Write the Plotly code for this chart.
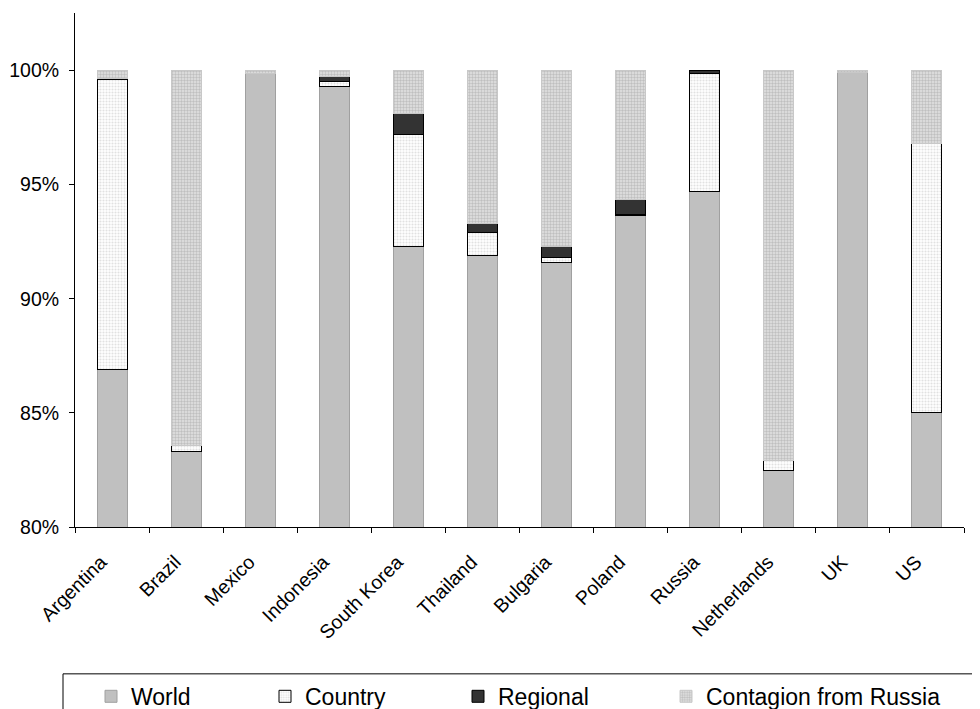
import plotly.graph_objects as go

countries = ["Argentina", "Brazil", "Mexico", "Indonesia", "South Korea", "Thailand",
             "Bulgaria", "Poland", "Russia", "Netherlands", "UK", "US"]
world = [86.9, 83.33, 99.85, 99.3, 92.3, 91.9, 91.6, 93.65, 94.72, 82.46, 99.9, 85.0]
country = [12.7, 0.23, 0, 0.2, 4.9, 1.0, 0.2, 0.04, 5.15, 0.47, 0, 11.8]
regional = [0.05, 0, 0, 0.22, 0.93, 0.4, 0.5, 0.66, 0.13, 0, 0, 0]
contagion = [0.35, 16.44, 0.15, 0.28, 1.87, 6.7, 7.7, 5.65, 0, 17.07, 0.1, 3.2]
y_ticks = [80, 85, 90, 95, 100]
y_tick_labels = ["80%", "85%", "90%", "95%", "100%"]

FONT = "Liberation Sans, Arial, sans-serif"


def nz(vals):
    return [v if v > 0 else None for v in vals]


fig = go.Figure()
fig.add_trace(go.Bar(
    x=countries, y=nz(world), name="World", legend="legend",
    marker=dict(color="#c0c0c0", line=dict(color="#a0a0a0", width=1)),
))
fig.add_trace(go.Bar(
    x=countries, y=nz(country), name="Country", legend="legend2",
    marker=dict(color="white", line=dict(color="#000000", width=1),
                pattern=dict(shape=".", fgcolor="#c4c4c4", bgcolor="#ffffff",
                             size=3, solidity=0.4)),
))
fig.add_trace(go.Bar(
    x=countries, y=nz(regional), name="Regional", legend="legend3",
    marker=dict(color="#333333", line=dict(color="#000000", width=1)),
))
fig.add_trace(go.Bar(
    x=countries, y=nz(contagion), name="Contagion from Russia", legend="legend4",
    marker=dict(color="#d0d0d0", line=dict(color="#c8c8c8", width=1),
                pattern=dict(shape=".", fgcolor="#9c9c9c", bgcolor="#e2e2e2",
                             size=3, solidity=0.5)),
))

OFF = 8  # page body margin
W, H = 972, 760
PLOT_L, PLOT_R, PLOT_T, PLOT_B = 75, 964, 12.5, 527  # page pixel coords
pw = PLOT_R - PLOT_L
ph = PLOT_B - PLOT_T


def px_x(px):
    return (px - PLOT_L) / pw


def px_y(py):
    return (PLOT_B - py) / ph


leg_common = dict(orientation="h", xanchor="left", yanchor="top",
                  bgcolor="rgba(0,0,0,0)", borderwidth=0,
                  font=dict(family=FONT, size=23, color="#000000"))
LEG_TOP = 675

fig.update_layout(
    width=W, height=H, showlegend=True,
    margin=dict(l=PLOT_L - OFF, r=W - (PLOT_R - OFF), t=PLOT_T - OFF,
                b=H - (PLOT_B - OFF), autoexpand=False),
    paper_bgcolor="white", plot_bgcolor="white",
    barmode="stack", bargap=0.595,
    font=dict(family=FONT, size=19.5, color="#000000"),
    legend=dict(x=px_x(91), y=px_y(LEG_TOP), **leg_common),
    legend2=dict(x=px_x(265), y=px_y(LEG_TOP), **leg_common),
    legend3=dict(x=px_x(458), y=px_y(LEG_TOP), **leg_common),
    legend4=dict(x=px_x(666), y=px_y(LEG_TOP), **leg_common),
    xaxis=dict(
        showline=True, linecolor="#000000", linewidth=1,
        ticks="outside", ticklen=5, tickcolor="#000000", tickson="boundaries",
        tickangle=-45, showgrid=False, zeroline=False,
        ticklabelstandoff=15, ticklabelshift=-11,
        tickfont=dict(family=FONT, size=19.5, color="#000000"),
    ),
    yaxis=dict(
        range=[80, 102.52], tickmode="array", tickvals=y_ticks, ticktext=y_tick_labels,
        showline=True, linecolor="#000000", linewidth=1,
        ticks="outside", ticklen=5, tickcolor="#000000",
        showgrid=False, zeroline=False, ticklabelstandoff=6,
        tickfont=dict(family=FONT, size=19.5, color="#000000"),
    ),
    shapes=[dict(type="rect", xref="paper", yref="paper",
                 x0=px_x(63), x1=px_x(1000), y0=px_y(740), y1=px_y(674),
                 line=dict(color="#000000", width=1), fillcolor="rgba(0,0,0,0)",
                 layer="below")],
)

fig.write_html("out.html")
